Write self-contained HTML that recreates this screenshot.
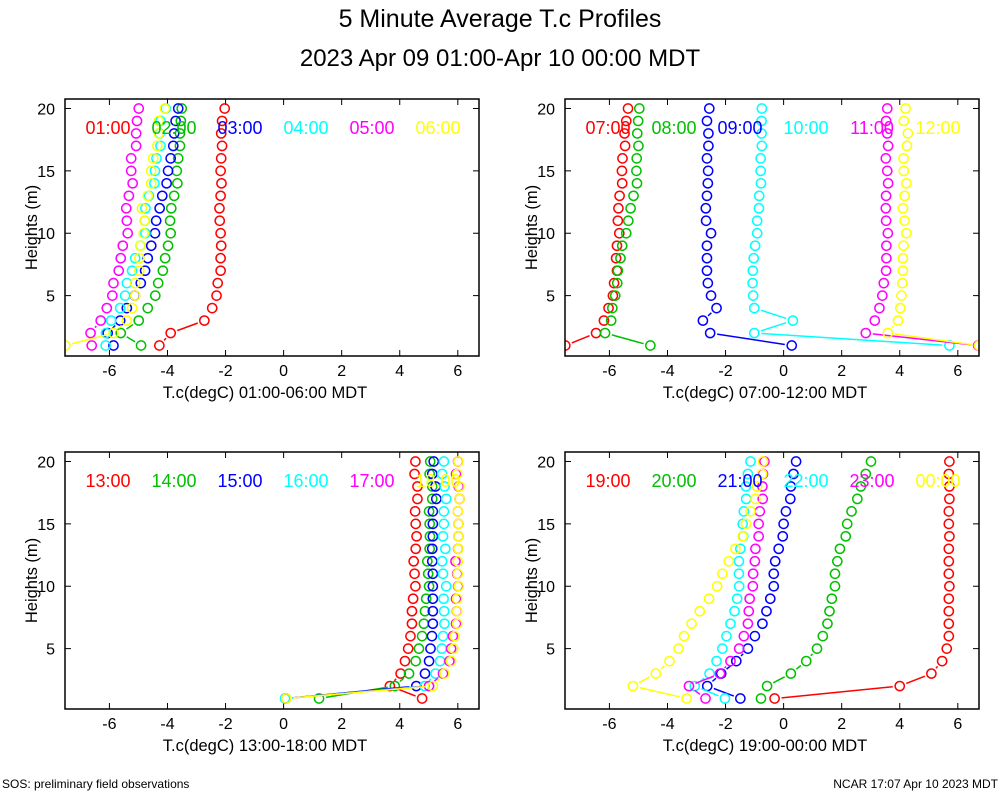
<!DOCTYPE html>
<html><head><meta charset="utf-8"><style>
body{margin:0;background:#fff;}
svg{display:block;font-family:"Liberation Sans",Arial,sans-serif;}
</style></head><body>
<svg id="chart" width="1000" height="800" viewBox="0 0 1000 800" xmlns="http://www.w3.org/2000/svg">
<text x="500" y="27" text-anchor="middle" font-size="25">5 Minute Average T.c Profiles</text>
<text x="500" y="66" text-anchor="middle" font-size="24">2023 Apr 09 01:00-Apr 10 00:00 MDT</text>
<text x="2" y="788" font-size="12">SOS: preliminary field observations</text>
<text x="998" y="788" text-anchor="end" font-size="12">NCAR 17:07 Apr 10 2023 MDT</text>
</svg>
<script>
const heights = [20,19,18,17,16,15,14,13,12,11,10,9,8,7,6,5,4,3,2,1];
const xTicks = [-6,-4,-2,0,2,4,6];
const yTicks = [5,10,15,20];
const colors = ["#ff0000","#00c000","#0000ff","#00ffff","#ff00ff","#ffff00"];
const panelTitles = ["T.c(degC) 01:00-06:00 MDT","T.c(degC) 07:00-12:00 MDT","T.c(degC) 13:00-18:00 MDT","T.c(degC) 19:00-00:00 MDT"];
const panelLabels = [["01:00","02:00","03:00","04:00","05:00","06:00"],["07:00","08:00","09:00","10:00","11:00","12:00"],["13:00","14:00","15:00","16:00","17:00","18:00"],["19:00","20:00","21:00","22:00","23:00","00:00"]];
const p1s1 = [-2.03,-2.12,-2.15,-2.12,-2.15,-2.17,-2.14,-2.17,-2.21,-2.2,-2.17,-2.15,-2.17,-2.17,-2.27,-2.31,-2.46,-2.73,-3.89,-4.28];
const p1s2 = [-3.51,-3.54,-3.57,-3.57,-3.63,-3.68,-3.66,-3.77,-3.87,-3.91,-3.89,-3.98,-4.08,-4.16,-4.32,-4.42,-4.68,-4.99,-5.61,-4.91];
const p1s3 = [-3.63,-3.72,-3.77,-3.8,-3.89,-3.98,-4.03,-4.18,-4.27,-4.39,-4.43,-4.56,-4.68,-4.77,-4.92,-5.12,-5.4,-5.63,-6.06,-5.86];
const p1s4 = [-4.06,-4.24,-4.27,-4.24,-4.38,-4.43,-4.45,-4.64,-4.76,-4.78,-4.76,-4.93,-5.11,-5.22,-5.4,-5.46,-5.63,-5.94,-6.12,-6.13];
const p1s5 = [-4.99,-5.05,-5.08,-5.08,-5.25,-5.25,-5.2,-5.33,-5.42,-5.4,-5.37,-5.54,-5.61,-5.68,-5.86,-5.9,-6.09,-6.3,-6.65,-6.61];
const p1s6 = [-4.09,-4.3,-4.3,-4.35,-4.49,-4.56,-4.56,-4.68,-4.88,-4.79,-4.82,-4.93,-4.97,-4.97,-5.11,-5.11,-5.22,-5.4,-5.86,-7.52];
const p2s1 = [-5.36,-5.42,-5.48,-5.46,-5.55,-5.57,-5.56,-5.65,-5.69,-5.71,-5.66,-5.74,-5.77,-5.74,-5.84,-5.88,-6.03,-6.19,-6.46,-7.52];
const p2s2 = [-4.97,-5.01,-5.04,-5.0,-5.06,-5.07,-5.05,-5.17,-5.27,-5.35,-5.42,-5.56,-5.62,-5.71,-5.73,-5.8,-5.9,-5.94,-6.15,-4.59];
const p2s3 = [-2.56,-2.64,-2.59,-2.59,-2.64,-2.6,-2.61,-2.64,-2.68,-2.67,-2.5,-2.64,-2.64,-2.64,-2.61,-2.5,-2.31,-2.78,-2.53,0.28];
const p2s4 = [-0.75,-0.76,-0.76,-0.75,-0.79,-0.79,-0.78,-0.84,-0.85,-0.91,-0.91,-0.98,-1.03,-1.06,-1.07,-1.05,-1.01,0.32,-1.01,5.71];
const p2s5 = [3.57,3.53,3.57,3.6,3.52,3.57,3.6,3.53,3.52,3.53,3.59,3.54,3.54,3.53,3.45,3.4,3.3,3.14,2.83,6.7];
const p2s6 = [4.2,4.14,4.28,4.25,4.13,4.14,4.23,4.17,4.11,4.17,4.23,4.13,4.11,4.11,4.09,4.06,4.02,3.94,3.59,6.73];
const p3s1 = [4.54,4.51,4.61,4.61,4.53,4.55,4.58,4.55,4.48,4.51,4.54,4.46,4.42,4.42,4.37,4.29,4.18,4.03,3.66,4.77];
const p3s2 = [5.05,5.03,5.12,5.12,5.01,5.03,5.04,5.03,4.95,4.98,5.01,4.91,4.87,4.83,4.77,4.66,4.55,4.32,3.83,1.22];
const p3s3 = [5.17,5.12,5.23,5.26,5.14,5.14,5.14,5.12,5.12,5.14,5.14,5.14,5.14,5.14,5.11,5.06,5.01,4.87,4.57,0.06];
const p3s4 = [5.52,5.46,5.54,5.6,5.52,5.52,5.49,5.57,5.46,5.49,5.6,5.51,5.53,5.54,5.49,5.45,5.39,5.23,4.86,0.05];
const p3s5 = [6.01,5.94,6.03,6.06,6.0,6.02,6.02,6.01,5.92,5.98,6.01,5.94,5.97,5.94,5.83,5.77,5.71,5.49,5.01,0.09];
const p3s6 = [6.02,5.98,6.06,6.06,6.0,6.02,6.02,6.02,6.0,6.0,6.03,5.98,5.98,5.98,5.89,5.85,5.77,5.54,5.14,0.09];
const p4s1 = [5.71,5.69,5.71,5.71,5.69,5.69,5.71,5.69,5.69,5.69,5.71,5.69,5.69,5.69,5.69,5.62,5.46,5.09,4.0,-0.31];
const p4s2 = [3.01,2.83,2.66,2.54,2.34,2.19,2.14,1.94,1.85,1.77,1.77,1.66,1.58,1.51,1.35,1.15,0.78,0.25,-0.57,-0.78];
const p4s3 = [0.43,0.34,0.25,0.23,0.08,0,-0.03,-0.17,-0.29,-0.34,-0.34,-0.46,-0.59,-0.73,-0.99,-1.23,-1.63,-2.15,-2.63,-1.49];
const p4s4 = [-1.14,-1.23,-1.3,-1.29,-1.37,-1.41,-1.39,-1.49,-1.54,-1.54,-1.53,-1.6,-1.69,-1.83,-1.97,-2.11,-2.31,-2.55,-3.06,-2.02];
const p4s5 = [-0.66,-0.71,-0.73,-0.72,-0.82,-0.86,-0.86,-0.97,-0.99,-1.05,-1.06,-1.17,-1.2,-1.23,-1.37,-1.53,-1.83,-2.19,-3.26,-2.69];
const p4s6 = [-0.71,-0.74,-0.91,-0.97,-1.14,-1.29,-1.41,-1.66,-1.89,-2.11,-2.29,-2.57,-2.89,-3.17,-3.43,-3.62,-3.93,-4.4,-5.19,-3.34];
const panelSeries = [[p1s1,p1s2,p1s3,p1s4,p1s5,p1s6],[p2s1,p2s2,p2s3,p2s4,p2s5,p2s6],[p3s1,p3s2,p3s3,p3s4,p3s5,p3s6],[p4s1,p4s2,p4s3,p4s4,p4s5,p4s6]];

const NS = "http://www.w3.org/2000/svg";
const svg = document.getElementById('chart');
function mk(tag, attrs, parent){const e=document.createElementNS(NS,tag);for(const k in attrs)e.setAttribute(k,attrs[k]);(parent||svg).appendChild(e);return e;}
const boxes = [{l:65,r:479,t:99,b:356},{l:565,r:979,t:99,b:356},{l:65,r:479,t:452,b:709},{l:565,r:979,t:452,b:709}];
const xDom=[-7.53,6.73], yDom=[0.16,20.76];
const defs = mk('defs',{});
boxes.forEach((B,pi)=>{
  const cp = mk('clipPath',{id:'clip'+pi},defs);
  mk('rect',{x:B.l,y:B.t,width:B.r-B.l,height:B.b-B.t},cp);
  const g = mk('g',{});
  
  
  const xs = v => B.l + (v-xDom[0])/(xDom[1]-xDom[0])*(B.r-B.l);
  const ys = v => B.b - (v-yDom[0])/(yDom[1]-yDom[0])*(B.b-B.t);
  xTicks.forEach(t=>{
    const x=xs(t);
    mk('line',{x1:x,y1:B.b,x2:x,y2:B.b-6,stroke:'#000','stroke-width':1},g);
    mk('line',{x1:x,y1:B.t,x2:x,y2:B.t+6,stroke:'#000','stroke-width':1},g);
    const tx=mk('text',{x:x,y:B.b+20,'text-anchor':'middle','font-size':16},g);
    tx.textContent=t;
    
    
  });
  yTicks.forEach(t=>{
    const y=ys(t);
    mk('line',{x1:B.l,y1:y,x2:B.l+6,y2:y,stroke:'#000','stroke-width':1},g);
    mk('line',{x1:B.r,y1:y,x2:B.r-6,y2:y,stroke:'#000','stroke-width':1},g);
    const tx=mk('text',{x:B.l-10,y:y+6,'text-anchor':'end','font-size':16},g);
    tx.textContent=t;
    
    
  });
  const xt=mk('text',{x:(B.l+B.r)/2-7,y:B.b+42,'text-anchor':'middle','font-size':16.5},g);
  xt.textContent=panelTitles[pi];
  
  
  const cy=(B.t+B.b)/2;
  const yt=mk('text',{x:B.l-28,y:cy,'text-anchor':'middle','font-size':16.5,transform:'rotate(-90 '+(B.l-28)+' '+cy+')'},g);
  yt.textContent='Heights (m)';
  
  
  const pg = mk('g',{'clip-path':'url(#clip'+pi+')'},g);
  panelSeries[pi].forEach((ser,si)=>{
    const sg=mk('g',{},pg);
    
    
    const pts=ser.map((v,i)=>[xs(v),ys(heights[i])]);
    for(let i=0;i<pts.length-1;i++){
      const [x1,y1]=pts[i],[x2,y2]=pts[i+1];
      const d=Math.hypot(x2-x1,y2-y1), gap=7;
      if(d>2*gap+2){
        const ux=(x2-x1)/d, uy=(y2-y1)/d;
        mk('line',{x1:x1+ux*gap,y1:y1+uy*gap,x2:x2-ux*gap,y2:y2-uy*gap,stroke:colors[si],'stroke-width':1.5},sg);
      }
    }
    pts.forEach(p=>{
      const c=mk('circle',{cx:p[0],cy:p[1],r:4.6,fill:'none',stroke:colors[si],'stroke-width':1.5},sg);
      
      
    });
  });
  panelLabels[pi].forEach((lab,si)=>{
    const lt=mk('text',{x:B.l+43+si*66,y:B.t+35,'text-anchor':'middle','font-size':18,fill:colors[si]},g);
    lt.textContent=lab;
    
    
  });
  const fr=mk('rect',{x:B.l,y:B.t,width:B.r-B.l,height:B.b-B.t,fill:'none',stroke:'#000','stroke-width':1.5},g);
  
  
});
</script>
</body></html>
